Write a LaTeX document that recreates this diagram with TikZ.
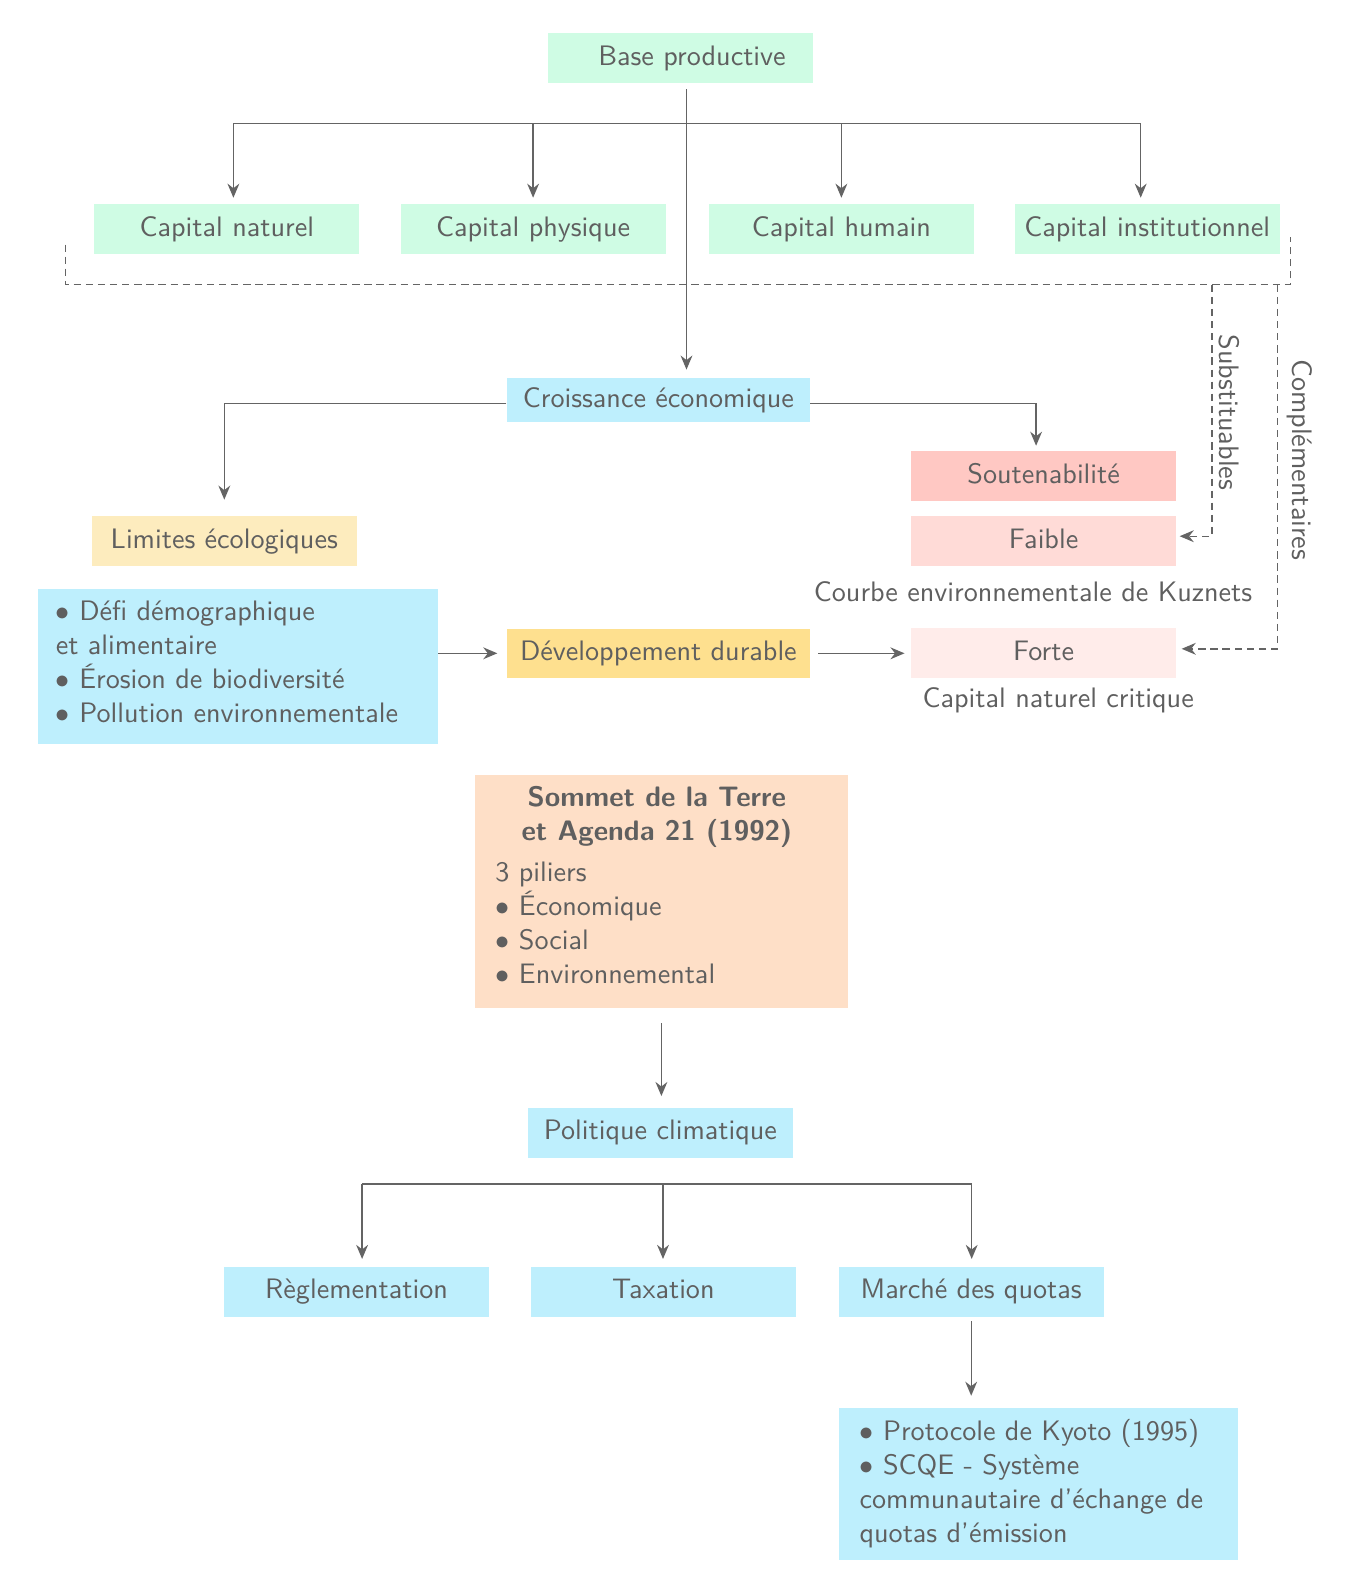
\documentclass[tikz,border=0pt]{standalone}
\usepackage{fontspec}
\usetikzlibrary{arrows.meta}
\renewcommand{\familydefault}{\sfdefault}
\newlength\pxu \setlength\pxu{0.355pt}
\newcommand{\bul}{$\bullet$}
\definecolor{txt}{RGB}{95,95,95}
\definecolor{lin}{RGB}{100,100,100}
\definecolor{mint}{RGB}{207,252,228}
\definecolor{sky}{RGB}{190,239,253}
\definecolor{sand}{RGB}{253,236,190}
\definecolor{gold}{RGB}{254,224,143}
\definecolor{roseA}{RGB}{255,200,195}
\definecolor{roseB}{RGB}{255,219,215}
\definecolor{roseC}{RGB}{255,236,234}
\definecolor{peach}{RGB}{254,223,199}
\begin{document}
\begin{tikzpicture}[x=0.355pt, y=-0.355pt, font=\sffamily, text=txt,
  box/.style={fill=#1, draw=none, inner sep=0pt, minimum width=265\pxu, minimum height=50\pxu, text height=0.72em, text depth=0.2em},
  ln/.style={draw=lin, line width=0.5pt},
  arr/.style={ln, -{Stealth[length=5pt,width=4.2pt]}},
  dln/.style={ln, dash pattern=on 2.6pt off 1.7pt},
  darr/.style={dln, -{Stealth[length=5pt,width=4.2pt]}},
  txtblock/.style={inner sep=0pt, align=left, anchor=base west}]
\fill[white] (0,0) rectangle (1360,1577);
\useasboundingbox (0,0) rectangle (1360,1577);

% top
\node[box=mint] (base) at (680.5,58.3) {};
\node[text height=0.72em, text depth=0.2em] (basetxt) at (692,58.3) {Base productive};
\node[box=mint] (cnat) at (226.8,229.3) {Capital naturel};
\node[box=mint] (cphy) at (533.1,229.3) {Capital physique};
\node[box=mint] (chum) at (841.4,229.3) {Capital humain};
\node[box=mint] (cins) at (1147.2,229.3) {Capital institutionnel};

\node[box=sky, minimum width=303\pxu, minimum height=44.3\pxu] (croi) at (658.4,400.3) {Croissance économique};
\node[box=sand] (lim) at (224.3,541.2) {Limites écologiques};
\node[box=roseA] (sout) at (1043.6,476.3) {Soutenabilité};
\node[box=roseB] (faib) at (1043.6,541.2) {Faible};
\node[box=roseC] (fort) at (1043.6,653.3) {Forte};
\node (kuz) at (1033,591.5) {Courbe environnementale de Kuznets};
\node (crit) at (1058.2,700.1) {Capital naturel critique};

\node[box=sky, minimum width=399.4\pxu, minimum height=155\pxu] (defi) at (237.9,666.9) {};
\node[txtblock] (defitxt) at (55.3,722.3) {\bul{} Défi démographique\\et alimentaire\\\bul{} Érosion de biodiversité\\\bul{} Pollution environnementale};
\node[box=gold, minimum width=303\pxu, minimum height=49.3\pxu] (dev) at (658.4,653.3) {Développement durable};

\node[box=peach, minimum width=373.2\pxu, minimum height=233.4\pxu] (som) at (661.4,891.2) {};
\node[inner sep=0pt, align=center, anchor=base, font=\sffamily\bfseries] (somt) at (656.9,840.2) {Sommet de la Terre\\et Agenda 21 (1992)};
\node[txtblock] (soml) at (494.9,983.1) {3 piliers\\\bul{} Économique\\\bul{} Social\\\bul{} Environnemental};

\node[box=sky] (pol) at (660.4,1132.6) {Politique climatique};
\node[box=sky] (reg) at (356.6,1291.5) {Règlementation};
\node[box=sky] (tax) at (663.4,1291.5) {Taxation};
\node[box=sky] (mar) at (971.2,1291.5) {Marché des quotas};
\node[box=sky, minimum width=399.4\pxu, minimum height=152\pxu] (kyo) at (1038.6,1484.3) {};
\node[txtblock] (kyot) at (859,1542.1) {\bul{} Protocole de Kyoto (1995)\\\bul{} SCQE - Système\\communautaire d’échange de\\quotas d’émission};

% connectors top
\coordinate (trk) at (686.5,123.4);
\coordinate (b1) at (233.4,123.4);
\coordinate (b4) at (1140.7,123.4);
\draw[arr, shorten <=5.5\pxu, shorten >=8\pxu] (base.south -| trk) -- (trk |- croi.north);
\draw[ln] (b1) -- (b4);
\draw[arr, shorten >=6\pxu] (b1) -- (b1 |- cnat.north);
\draw[arr, shorten >=6\pxu] (trk -| cphy) -- (cphy.north);
\draw[arr, shorten >=6\pxu] (trk -| chum) -- (chum.north);
\draw[arr, shorten >=6\pxu] (b4) -- (b4 |- cins.north);

% dashed
\coordinate (dl) at (65.4,244.5);
\coordinate (dr) at (1290.6,237.4);
\coordinate (dy) at (0,284.7);
\coordinate (sb) at (1212.1,284.7);
\coordinate (cb) at (1277.5,284.7);
\draw[dln] (dl) -- (dl |- dy) -- (dr |- dy) -- (dr);
\draw[darr, shorten >=3\pxu] (sb) |- ([yshift=5\pxu]faib.east);
\draw[darr, shorten >=5\pxu] (cb) |- ([yshift=4.5\pxu]fort.east);
\node[rotate=-90] (sublab) at (1229.2,412.4) {Substituables};
\node[rotate=-90] (comlab) at (1299.6,459.7) {Complémentaires};

% middle
\draw[arr, shorten >=16\pxu] ([yshift=-3\pxu]croi.west) -| (lim.north);
\draw[arr, shorten >=5\pxu] ([yshift=-3\pxu]croi.east) -| ([xshift=-7.5\pxu]sout.north);
\draw[arr, shorten >=9\pxu] (defi.east |- dev.west) -- (dev.west);
\draw[arr, shorten <=8\pxu, shorten >=6\pxu] (dev.east) -- (dev.east -| fort.west);

% bottom
\draw[arr, shorten <=15\pxu, shorten >=11\pxu] (som.south) -- (som.south |- pol.north);
\coordinate (p1) at (362.1,1184);
\coordinate (p2) at (663,1184);
\coordinate (p3) at (971.7,1184);
\draw[ln] (p1) -- (p3);
\draw[arr, shorten >=7\pxu] (p1) -- (p1 |- reg.north);
\draw[arr, shorten >=7\pxu] (p2) -- (p2 |- tax.north);
\draw[arr, shorten >=7\pxu] (p3) -- (p3 |- mar.north);
\draw[arr, shorten <=4\pxu, shorten >=12\pxu] (mar.south) -- (mar.south |- kyo.north);
\end{tikzpicture}
\end{document}
